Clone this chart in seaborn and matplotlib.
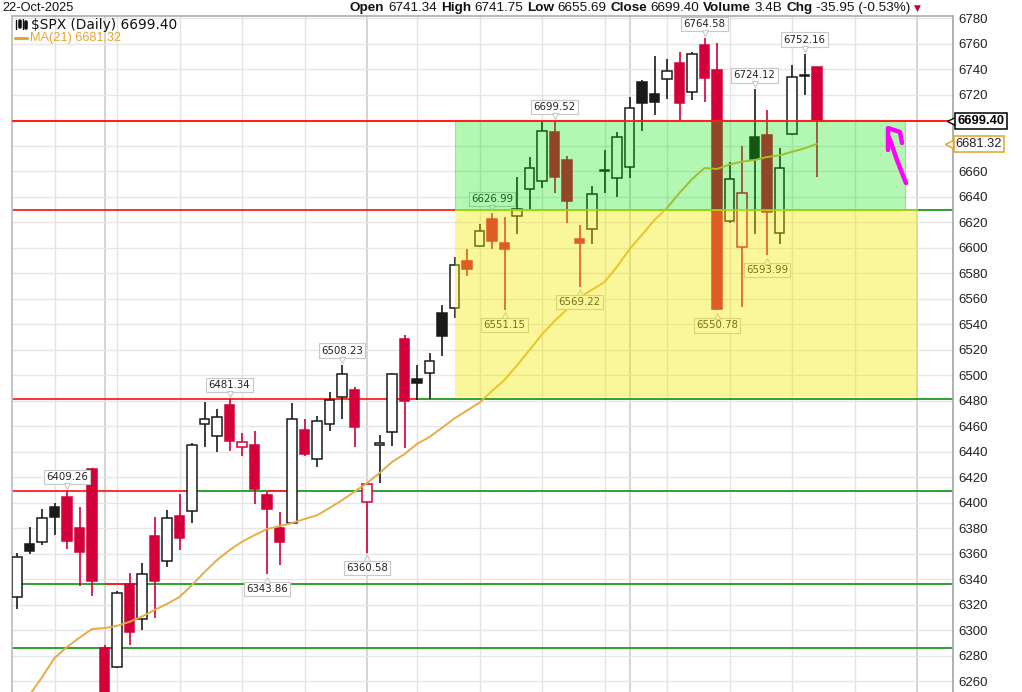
import numpy as np
import pandas as pd
import matplotlib
matplotlib.use('Agg')
from matplotlib import pyplot as plt
from matplotlib.patches import Rectangle
from matplotlib import font_manager
import matplotlib.transforms as mtransforms
import seaborn as sns

# daily $SPX candles, 23-Jul-2025 .. 22-Oct-2025
opens = [6326.1, 6367.5, 6368.8, 6396.7, 6404.6, 6380.2, 6426.0, 6286.0, 6271.2, 6336.1,
         6308.4, 6373.7, 6354.4, 6389.4, 6393.6, 6461.6, 6452.4, 6476.5, 6443.8, 6445.1,
         6405.9, 6379.8, 6384.2, 6456.9, 6433.9, 6461.3, 6483.0, 6488.2, 6400.6, 6444.9,
         6455.5, 6528.2, 6496.9, 6501.8, 6548.9, 6552.3, 6589.2, 6601.2, 6622.4, 6603.8,
         6625.0, 6645.6, 6652.4, 6690.8, 6668.6, 6606.7, 6614.3, 6660.0, 6654.3, 6663.4,
         6730.0, 6720.4, 6731.9, 6744.9, 6722.2, 6758.8, 6739.2, 6620.8, 6600.6, 6686.9,
         6688.2, 6611.6, 6688.8, 6734.5, 6741.34]
highs = [6360.2, 6380.5, 6395.1, 6399.8, 6409.26, 6396.2, 6427.0, 6288.0, 6330.6, 6344.9,
         6352.3, 6388.9, 6394.1, 6406.7, 6446.4, 6479.1, 6473.3, 6481.34, 6454.8, 6456.3,
         6408.5, 6392.8, 6478.3, 6465.3, 6467.8, 6486.4, 6508.23, 6490.8, 6415.0, 6452.9,
         6501.8, 6531.4, 6507.8, 6517.5, 6554.7, 6592.3, 6598.8, 6618.4, 6626.99, 6623.7,
         6655.5, 6670.7, 6698.7, 6699.52, 6671.8, 6617.6, 6648.2, 6676.5, 6690.8, 6717.8,
         6731.4, 6750.2, 6747.6, 6753.1, 6753.6, 6764.58, 6760.6, 6667.3, 6679.6, 6724.12,
         6707.8, 6677.8, 6743.1, 6752.16, 6741.75]
lows = [6316.2, 6359.6, 6366.7, 6374.5, 6363.3, 6334.5, 6326.7, 6212.7, 6270.0, 6288.2,
        6300.0, 6309.2, 6349.7, 6362.7, 6384.2, 6443.8, 6439.8, 6440.6, 6436.5, 6398.8,
        6343.86, 6351.0, 6383.0, 6436.5, 6428.1, 6456.3, 6465.3, 6443.3, 6360.58, 6415.0,
        6444.3, 6442.5, 6480.4, 6480.9, 6514.9, 6544.5, 6577.6, 6600.2, 6598.6, 6551.15,
        6610.6, 6630.0, 6646.4, 6643.0, 6619.5, 6569.22, 6602.7, 6642.5, 6639.8, 6654.3,
        6691.6, 6703.9, 6716.2, 6700.0, 6715.7, 6714.4, 6550.78, 6619.0, 6553.6, 6610.4,
        6593.99, 6602.7, 6688.0, 6719.6, 6655.69]
closes = [6357.5, 6362.2, 6388.1, 6388.9, 6369.8, 6360.9, 6338.4, 6238.0, 6329.3, 6298.2,
          6343.9, 6338.4, 6388.1, 6371.9, 6445.1, 6465.3, 6467.3, 6448.2, 6447.7, 6410.4,
          6394.7, 6369.3, 6465.3, 6437.8, 6464.2, 6480.4, 6500.8, 6459.0, 6414.5, 6446.4,
          6500.8, 6479.8, 6493.5, 6511.2, 6530.8, 6586.0, 6582.9, 6613.2, 6605.3, 6598.6,
          6630.0, 6662.6, 6691.6, 6655.0, 6636.5, 6603.3, 6641.7, 6660.5, 6686.9, 6709.6,
          6713.6, 6714.1, 6738.7, 6713.1, 6751.8, 6732.7, 6551.5, 6653.5, 6643.0, 6669.2,
          6627.6, 6662.1, 6734.0, 6735.4, 6699.40]
ma21 = [6234.1, 6249.0, 6263.0, 6278.0, 6286.7, 6294.0, 6300.8, 6301.5, 6303.3, 6306.4,
        6310.6, 6315.7, 6320.5, 6325.9, 6335.3, 6345.5, 6354.9, 6362.7, 6369.3, 6374.4,
        6379.2, 6381.5, 6383.9, 6387.1, 6390.0, 6395.7, 6401.8, 6408.5, 6415.3, 6423.1,
        6431.8, 6438.0, 6446.0, 6451.4, 6458.6, 6466.0, 6472.2, 6478.3, 6487.5, 6496.2,
        6507.6, 6519.6, 6531.9, 6542.4, 6551.5, 6560.6, 6566.9, 6572.9, 6584.9, 6598.7,
        6610.0, 6621.6, 6631.0, 6642.9, 6653.6, 6662.4, 6661.6, 6665.1, 6667.4, 6668.6,
        6671.0, 6672.3, 6675.1, 6677.8, 6681.32]

# trading days incl. the empty space up to early November
days = pd.bdate_range('2025-07-23', '2025-11-07').drop(pd.Timestamp('2025-09-01'))

high_marks = [4, 17, 26, 38, 43, 55, 59, 63]
low_marks = [20, 28, 39, 45, 56, 60]

# hand drawn support / resistance lines: level, red part, green part (candle index)
levels = [6699.40, 6629.5, 6481.34, 6409.26, 6336.0, 6286.0]
red_parts = [[(-0.4, 74.9)], [(-0.4, 35.0)], [(-0.4, 32.0)], [(-0.4, 14.1), (20.0, 22.0)],
             [(7.0, 10.0)], [(6.6, 8.0)]]
green_parts = [[], [(35.0, 74.9)], [(32.0, 74.9)], [(14.1, 74.9)], [(-0.4, 74.9)], [(-0.4, 74.9)]]

# magenta scribble (index, price)
arrow_hook = [(69.68, 6676.5), (69.68, 6693.7), (70.64, 6690.6), (70.8, 6682.0)]
arrow_tail = [(69.76, 6686.7), (70.4, 6668.6), (71.12, 6650.6)]

header = [('Open', True), ('6741.34', False), ('High', True), ('6741.75', False),
          ('Low', True), ('6655.69', False), ('Close', True), ('6699.40', False),
          ('Volume', True), ('3.4B', False), ('Chg', True), ('-35.95 (-0.53%)', False)]


names = set(f.name for f in font_manager.fontManager.ttflist)
hfam = 'Liberation Sans Narrow' if 'Liberation Sans Narrow' in names else 'Liberation Sans'

sns.set_theme(style='white')
plt.rcParams['font.family'] = ['DejaVu Sans']

W, H = 1022, 692
fig = plt.figure(figsize=(W / 100, H / 100), dpi=100)
ax = fig.add_axes([12 / W, 0, (953 - 12) / W, (H - 16) / H])
ax.set_xlim(-0.4, 74.88)
ax.set_ylim(6251.4, 6781.6)

red = '#d3003a'
blk = '#1a1a1a'
n = len(closes)
idx = np.arange(n)

# grid
ticks = np.arange(6260, 6781, 20)
ax.set_yticks(ticks)
ax.yaxis.grid(True, color='#e6e6e6', lw=1, zorder=0)
ax.set_axisbelow(True)
for k in range(1, len(days)):
    if days[k].month != days[k - 1].month:
        ax.axvline(k, color='#c9c9c9', lw=1.1, zorder=0.5)
    elif days[k].weekday() < days[k - 1].weekday():
        ax.axvline(k, color='#e3e3e3', lw=1, zorder=0.5)

# support / resistance lines
for lev, rp, gp in zip(levels, red_parts, green_parts):
    for a, b in gp:
        ax.hlines(lev, a, b, color='#1f9a1f', lw=1.3, zorder=1.5)
    for a, b in rp:
        ax.hlines(lev, a, b, color='#ff1f1f', lw=1.3, zorder=1.6)

# candles
bw = 0.76
for i in range(n):
    o, h, l, c = opens[i], highs[i], lows[i], closes[i]
    prev = closes[i - 1] if i else o
    col = red if c < prev else blk
    hollow = c >= o
    lo, hi = min(o, c), max(o, c)
    ax.vlines(i, l, lo, color=col, lw=1.2, zorder=2)
    ax.vlines(i, hi, h, color=col, lw=1.2, zorder=2)
    ax.add_patch(Rectangle((i - bw / 2, lo), bw, max(hi - lo, 0.5),
                           fc='white' if hollow else col, ec=col, lw=1.1, zorder=3))

sns.lineplot(x=idx, y=ma21, ax=ax, color='#e5ad45', lw=1.4, zorder=3.2, legend=False)

# high / low callouts
lab_kw = dict(textcoords='offset points', ha='center', va='center', fontsize=7.3,
              color='#222222', zorder=3.5,
              bbox=dict(boxstyle='square,pad=0.22', fc='white', ec='#c8c8c8', lw=0.8))
for i in high_marks:
    ax.annotate(f'{highs[i]:.2f}', xy=(i, highs[i]), xytext=(0, 10), **lab_kw)
    ax.plot(i, highs[i], marker='v', ms=5, mfc='white', mec='#c8c8c8', mew=0.8, zorder=3.6,
            transform=mtransforms.offset_copy(ax.transData, fig, x=0, y=3.5, units='points'))
for i in low_marks:
    ax.annotate(f'{lows[i]:.2f}', xy=(i, lows[i]), xytext=(0, -10.8), **lab_kw)
    ax.plot(i, lows[i], marker='^', ms=5, mfc='white', mec='#c8c8c8', mew=0.8, zorder=3.6,
            transform=mtransforms.offset_copy(ax.transData, fig, x=0, y=-4, units='points'))

# shaded zones
ax.add_patch(Rectangle((35.04, 6629.5), 36.0, 6699.4 - 6629.5, fc=(0.0, 0.9, 0.0),
                       ec=(0.0, 0.7, 0.0), lw=0.8, alpha=0.3, zorder=4))
ax.add_patch(Rectangle((35.04, 6482.7), 37.04, 6629.5 - 6482.7, fc=(0.94, 0.92, 0.0),
                       ec='none', alpha=0.4, zorder=4))
ax.hlines(6629.5, 35.04, 72.08, color='#a8d81c', lw=1.2, zorder=4.1)
ax.hlines(levels[0], -0.4, 74.9, color='#ff1f1f', lw=1.3, zorder=4.2)

# magenta scribble
for pts in (arrow_hook, arrow_tail):
    xs, ys = zip(*pts)
    ax.plot(xs, ys, color='#ff00ff', lw=3.2, solid_capstyle='round',
            solid_joinstyle='round', zorder=6)

# axes frame and right hand labels
ax.spines['bottom'].set_visible(False)
ax.spines['left'].set_color('#bdbdbd')
ax.spines['top'].set_color('#b0b0b0')
ax.spines['right'].set_color('#a8a8a8')
ax.spines['right'].set_linestyle((0, (1, 1)))
ax.set_xticks([])
ax.yaxis.tick_right()
ax.set_yticklabels(['' if t in (6700, 6680) else str(t) for t in ticks],
                   fontfamily='Liberation Sans', fontsize=9.5, color='#222222')
ax.tick_params(axis='y', length=0, pad=4)
ax.set_xlabel('')
ax.set_ylabel('')

bt = mtransforms.blended_transform_factory(ax.transAxes, ax.transData)
ax.text(1.0298, closes[-1], f'{closes[-1]:.2f}', transform=bt, ha='center', va='center',
        fontsize=9.3, fontweight='bold', fontfamily='Liberation Sans', color='black',
        clip_on=False, zorder=10,
        bbox=dict(boxstyle='square,pad=0.16', fc='white', ec='black', lw=1.1))
ax.plot([0.9975], [closes[-1]], marker='<', ms=6, mfc='white', mec='black', mew=1.0,
        transform=bt, clip_on=False, zorder=9)
ax.text(1.0277, ma21[-1], f'{ma21[-1]:.2f}', transform=bt, ha='center', va='center',
        fontsize=9.3, fontfamily='Liberation Sans', color='#222222', clip_on=False, zorder=10,
        bbox=dict(boxstyle='square,pad=0.16', fc='white', ec='#e9a11c', lw=1.1))
ax.plot([0.9955], [ma21[-1]], marker='<', ms=6, mfc='white', mec='#e9a11c', mew=1.0,
        transform=bt, clip_on=False, zorder=9)

# in-chart legend
fig.text(31 / W, 1 - 24.5 / H, '\\$SPX (Daily) ' + f'{closes[-1]:.2f}', fontsize=9.9,
         va='center', ha='left', color='#111111')
fig.text(30 / W, 1 - 38 / H, f'MA(21) {ma21[-1]:.2f}', fontsize=9.2, va='center', ha='left',
         family='Liberation Sans', color='#e3a62e')
fig.add_artist(plt.Line2D([15 / W, 27 / W], [1 - 38 / H, 1 - 38 / H], color='#e3a62e', lw=2.2))
for xx, y0, y1, w in [(16, 20, 29, 1.0), (19.5, 21, 27, 2.6), (23, 19, 29, 1.0), (26, 22, 28, 2.6)]:
    fig.add_artist(plt.Line2D([xx / W, xx / W], [1 - y0 / H, 1 - y1 / H], color='#111111', lw=w))

# header line
fig.text(2 / W, 1 - 8 / H, days[n - 1].strftime('%d-%b-%Y'), fontsize=9.2, family=hfam,
         va='center', ha='left', color='#111111')
renderer = fig.canvas.get_renderer()


def lay_header(size, draw):
    x = 350.0
    made = []
    for txt, bold in header:
        t = fig.text(x / W, 1 - 8 / H, txt, fontsize=size, family=hfam,
                     fontweight='bold' if bold else 'normal', va='center', ha='left',
                     color='#111111')
        x += t.get_window_extent(renderer=renderer).width + size * 0.38
        made.append(t)
    if not draw:
        for t in made:
            t.remove()
    return x


end = lay_header(9, False)
size = 9 * (912 - 350) / (end - 350)
end = lay_header(size, True)
fig.text(end / W, 1 - 8 / H, '\u25bc', fontsize=6.5, va='center', ha='left', color='#c0003c')

fig.savefig('out.png', dpi=100)
